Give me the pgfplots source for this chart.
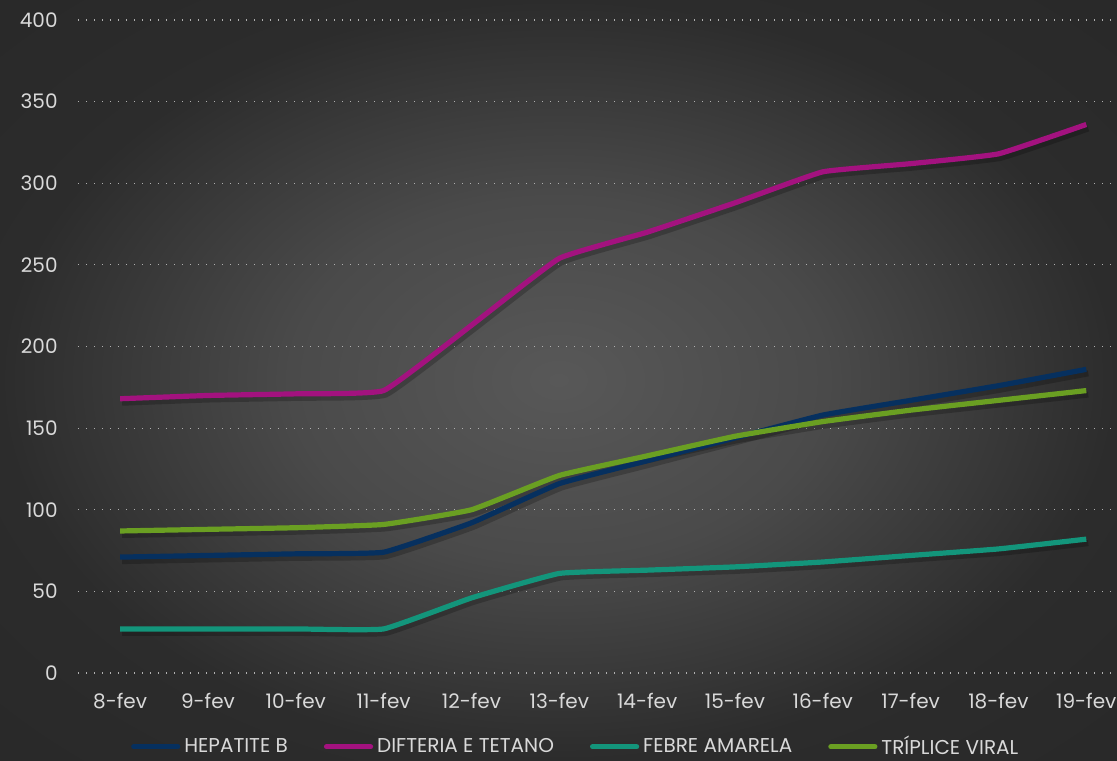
\documentclass[border=0pt]{standalone}
\usepackage{pgfplots}
\pgfplotsset{compat=1.18}
\usepackage{fontspec}
\setmainfont{Poppins}
\definecolor{txt}{HTML}{D9D9D9}
\definecolor{gridc}{HTML}{B0B0B0}
\definecolor{hepb}{HTML}{06305F}
\definecolor{dift}{HTML}{A3127F}
\definecolor{febre}{HTML}{13957B}
\definecolor{tripl}{HTML}{6A9F22}
\pgfdeclareradialshading{bgshade}{\pgfpoint{0bp}{0bp}}{%
  color(0bp)=(rgb,255:red,88;green,88;blue,88);
  color(12bp)=(rgb,255:red,74;green,74;blue,74);
  color(25bp)=(rgb,255:red,44;green,44;blue,44);
  color(50bp)=(rgb,255:red,36;green,36;blue,36)}
\pgfplotstableread{
x hep dif feb tri
0 71 168 27 87
1 72 170 27 88
2 73 171 27 89
3 74 173 27 91
4 92 213 46 100
5 116 254 61 121
6 130 270 63 133
7 144 288 65 145
8 158 307 68 154
9 167 312 72 161
10 176 318 76 167
11 186 336 82 173
}\data
\begin{document}
\begin{tikzpicture}[x=1pt,y=1pt]
\shade[shading=bgshade] (0,0) rectangle (558.5,380);
\begin{axis}[
  scale only axis,
  width=519.5pt, height=326.5pt,
  at={(39pt,43.5pt)}, anchor=south west,
  xmin=-0.48, xmax=11.35,
  ymin=0, ymax=400,
  ytick={0,50,...,400},
  xtick={0,...,11},
  xticklabels={8-fev,9-fev,10-fev,11-fev,12-fev,13-fev,14-fev,15-fev,16-fev,17-fev,18-fev,19-fev},
  axis line style={draw=none},
  major tick length=0pt,
  ymajorgrids,
  grid style={gridc, line width=0.6pt, dash pattern=on 0.6pt off 3.4pt},
  tick label style={font=\fontsize{10}{12}\selectfont, text=txt, inner sep=0pt},
  yticklabel style={anchor=east, xshift=-10pt},
  xticklabel style={anchor=north, yshift=-10pt},
  /pgf/number format/assume math mode=true,
  legend style={at={(0.48,-0.113)}, anchor=center, draw=none, fill=none,
    legend columns=4, font=\fontsize{10}{12}\selectfont, text=txt,
    /tikz/every even column/.append style={column sep=16pt},
    legend cell align=left},
  legend image code/.code={\draw[#1, line width=2.6pt, line cap=round] (0pt,0pt) -- (22pt,0pt);},
  clip=false,
]
\pgfplotsinvokeforeach{hep,dif,feb,tri}{
\addplot[black, opacity=0.22, line width=3pt, smooth, tension=0.2, forget plot, yshift=-2pt, xshift=1pt] table[x=x,y=#1]{\data};
}
\addplot[hepb, line width=2.6pt, smooth, tension=0.2] table[x=x,y=hep]{\data};
\addlegendentry{HEPATITE B}
\addplot[dift, line width=2.6pt, smooth, tension=0.2] table[x=x,y=dif]{\data};
\addlegendentry{DIFTERIA E TETANO}
\addplot[febre, line width=2.6pt, smooth, tension=0.2] table[x=x,y=feb]{\data};
\addlegendentry{FEBRE AMARELA}
\addplot[tripl, line width=2.6pt, smooth, tension=0.2] table[x=x,y=tri]{\data};
\addlegendentry{TRÍPLICE VIRAL}
\end{axis}
\pgfresetboundingbox
\path (0,0) rectangle (558.5,380);
\end{tikzpicture}
\end{document}
